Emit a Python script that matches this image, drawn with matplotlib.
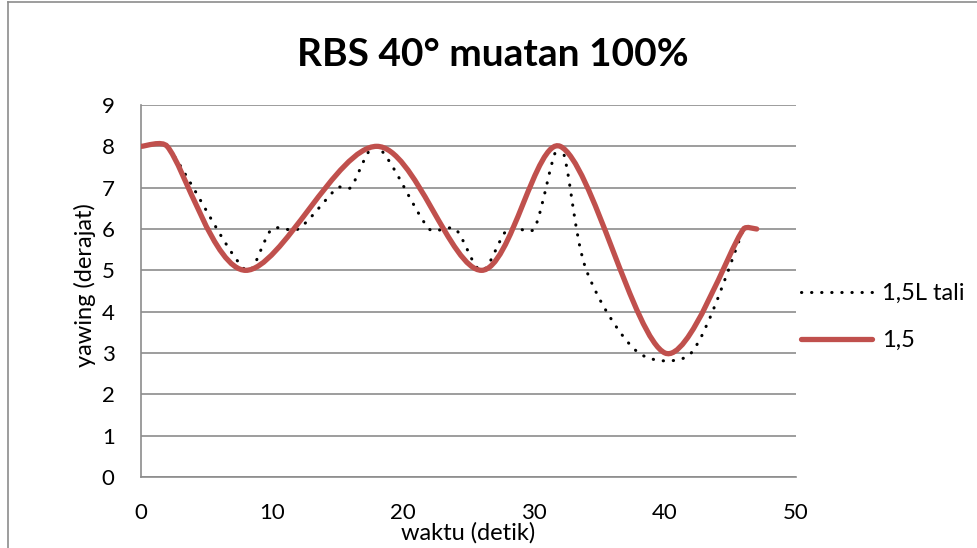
import matplotlib.pyplot as plt
from matplotlib.path import Path
from matplotlib.patches import PathPatch
from matplotlib.lines import Line2D

# data
x_tali = [0, 2, 8, 10, 12, 15, 16, 18, 22, 24, 26, 28, 30, 32, 34, 38, 42, 46]
y_tali = [8, 8, 5, 6, 6, 7, 7, 8, 6, 6, 5, 6, 6, 8, 5, 3, 3, 6]
x_15 = [0, 2, 8, 18, 26, 32, 40, 46, 47]
y_15 = [8, 8, 5, 8, 5, 8, 3, 6, 6]

series_names = ["1,5L tali", "1,5"]
red = "#C0504D"
grid_col = "#8C8C8C"

# screen aspect (px per y unit / px per x unit), used to judge segment lengths
ASPECT = 41.3 / 13.1


def seg_len(a, b):
    return ((b[0] - a[0]) ** 2 + ((b[1] - a[1]) * ASPECT) ** 2) ** 0.5


def smooth_path(xs, ys):
    # excel-like smoothed line: cubic bezier through every point,
    # tangent shortened next to short segments so it does not overshoot much
    pts = list(zip(xs, ys))
    n = len(pts)
    verts = [pts[0]]
    codes = [Path.MOVETO]

    def tangent(i, own):
        p_prev = pts[i - 1] if i > 0 else pts[i]
        p_next = pts[i + 1] if i + 1 < n else pts[i]
        tx = (p_next[0] - p_prev[0]) / 6
        ty = (p_next[1] - p_prev[1]) / 6
        full = seg_len(p_prev, pts[i]) + seg_len(pts[i], p_next)
        if i == 0 or i == n - 1:
            return tx, ty
        k = min(1.0, 2 * own / full)
        return tx * k, ty * k

    for i in range(n - 1):
        p1, p2 = pts[i], pts[i + 1]
        d = seg_len(p1, p2)
        t1 = tangent(i, d)
        t2 = tangent(i + 1, d)
        verts += [(p1[0] + t1[0], p1[1] + t1[1]),
                  (p2[0] - t2[0], p2[1] - t2[1]), p2]
        codes += [Path.CURVE4] * 3
    return Path(verts, codes)


plt.rcParams['font.family'] = ['Lato', 'DejaVu Sans']

fig = plt.figure(figsize=(9.77, 5.48), dpi=100)
ax = fig.add_axes([141 / 977, 1 - 477 / 548, 655 / 977, 372 / 548])

dot_style = (0, (0.1, 3.2))
ax.add_patch(PathPatch(smooth_path(x_tali, y_tali), fill=False, color="black",
                       lw=2.2, linestyle=dot_style, capstyle="round", zorder=3))
ax.add_patch(PathPatch(smooth_path(x_15, y_15), fill=False, color=red,
                       lw=3.8, capstyle="round", zorder=4))

ax.set_xlim(0, 50)
ax.set_ylim(0, 9)
ax.set_xticks(range(0, 51, 10))
ax.set_yticks(range(0, 10))
ax.yaxis.grid(True, color=grid_col, lw=1.2)
ax.set_axisbelow(True)
for s in ["top", "right"]:
    ax.spines[s].set_visible(False)
for s in ["left", "bottom"]:
    ax.spines[s].set_color(grid_col)
    ax.spines[s].set_linewidth(1.2)
ax.tick_params(length=0, labelsize=16)
ax.tick_params(axis="x", pad=19)
ax.tick_params(axis="y", pad=19)

ax.set_xlabel("waktu (detik)", fontsize=17)
ax.xaxis.set_label_coords(0.5, -(533 - 477) / 372)
ax.xaxis.label.set_va("center")
ax.set_ylabel("yawing (derajat)", fontsize=17)
ax.yaxis.set_label_coords(-(141 - 85) / 655, (477 - 285) / 372)
ax.yaxis.label.set_va("center")

fig.text(493 / 977, 1 - 55 / 548, "RBS 40° muatan 100%", ha="center", va="center",
         fontsize=28, fontweight="bold")

handles = [
    Line2D([], [], color="black", lw=2.2, linestyle=dot_style, dash_capstyle="round"),
    Line2D([], [], color=red, lw=3.8, solid_capstyle="round"),
]
fig.legend(handles, series_names, loc="center left", bbox_to_anchor=(792 / 977, 1 - 317 / 548),
           frameon=False, fontsize=17, handlelength=3.0, labelspacing=1.1, handletextpad=0.4,
           borderaxespad=0)

# outer chart border (left and top edges are visible in the picture)
fig.add_artist(Line2D([8 / 977, 8 / 977], [0, 1 - 1.5 / 548], transform=fig.transFigure,
                      color=grid_col, lw=1.2))
fig.add_artist(Line2D([8 / 977, 1], [1 - 1.5 / 548, 1 - 1.5 / 548], transform=fig.transFigure,
                      color=grid_col, lw=1.2))

fig.savefig("out.png", dpi=100)
